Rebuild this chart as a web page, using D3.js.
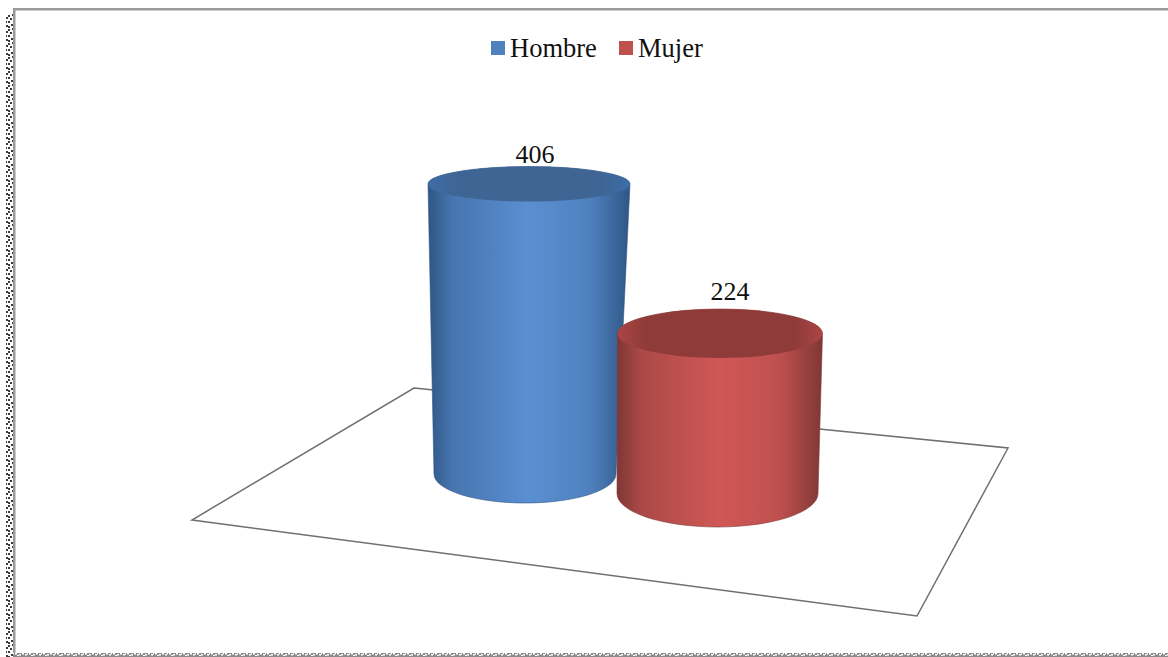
<!DOCTYPE html>
<html><head><meta charset="utf-8">
<script src="https://cdn.jsdelivr.net/npm/d3@7"></script>
<style>html,body{margin:0;padding:0;background:#fff}svg{display:block}text{font-family:"Liberation Serif",serif;fill:#111}</style>
</head><body><svg id="c" width="1168" height="657"></svg>
<script>
const categories = ["Hombre", "Mujer"];
const values = [406, 224];
const colorsEdge = ["#2f5685", "#7f3735"];
const colorsMid = ["#5a8fd2", "#d05856"];
const colorsTop = ["#3f6595", "#8f3b39"];
const colorsRim = ["#3c6da6", "#ab4644"];
const legendColors = ["#4f81bd", "#c0504d"];

const W = 1168, H = 657;
const svg = d3.select("#c");
const defs = svg.append("defs");

// layout scales
const baseX = d3.scalePoint().domain(categories).range([525, 717.5]);
const baseY = d3.scalePoint().domain(categories).range([474, 493.5]);
const topX = d3.scalePoint().domain(categories).range([529, 720]);
const rxBase = d3.scaleOrdinal(categories, [91, 100.5]);
const rxTop = d3.scaleOrdinal(categories, [101, 102.5]);
const ryBase = d3.scaleOrdinal(categories, [29, 33.5]);
const ryTop = d3.scaleOrdinal(categories, [17.5, 24.5]);
const hScale = d3.scaleLinear().domain([0, 406]).range([0, 290]);
const labelGap = d3.scaleOrdinal(categories, [4, 9]);
const labelShift = d3.scaleOrdinal(categories, [6, 10]);

// frame dot patterns
const p1 = defs.append("pattern").attr("id","dotsV").attr("patternUnits","userSpaceOnUse")
  .attr("width",8).attr("height",14);
[[0,1],[4,0],[2,4],[6,3],[0,7],[5,7],[3,10],[0,12],[6,11]].forEach(d=>
  p1.append("rect").attr("x",d[0]).attr("y",d[1]).attr("width",2).attr("height",2).attr("fill","#3a3a3a"));
const p2 = defs.append("pattern").attr("id","dotsH").attr("patternUnits","userSpaceOnUse")
  .attr("width",14).attr("height",4);
[[1,1],[5,2],[8,1],[11,2],[3,3],[13,1]].forEach(d=>
  p2.append("rect").attr("x",d[0]).attr("y",d[1]).attr("width",2).attr("height",1.5).attr("fill","#fff"));

svg.append("rect").attr("x",6).attr("y",14).attr("width",8).attr("height",643).attr("fill","url(#dotsV)");
svg.append("rect").attr("x",13).attr("y",8).attr("width",2.5).attr("height",646).attr("fill","#9a9a9a");
svg.append("rect").attr("x",13).attr("y",8).attr("width",W-13).attr("height",2.5).attr("fill","#9a9a9a");
svg.append("rect").attr("x",13).attr("y",653).attr("width",W-13).attr("height",4).attr("fill","#8a8a8a");
svg.append("rect").attr("x",13).attr("y",653).attr("width",W-13).attr("height",4).attr("fill","url(#dotsH)");

// floor
svg.append("polygon").attr("points",[[414,388],[1008,448],[917,616],[192,520]].join(" "))
  .attr("fill","#fff").attr("stroke","#6f6f6f").attr("stroke-width",1.5);

// gradients
categories.forEach((c,i)=>{
  const g = defs.append("linearGradient").attr("id","g"+i);
  [[0,colorsEdge[i]],[.12,d3.interpolateRgb(colorsEdge[i],colorsMid[i])(.55)],[.5,colorsMid[i]],[.8,d3.interpolateRgb(colorsEdge[i],colorsMid[i])(.75)],[1,colorsEdge[i]]]
    .forEach(s=>g.append("stop").attr("offset",s[0]).attr("stop-color",s[1]));
  const t = defs.append("linearGradient").attr("id","t"+i);
  [[0,colorsRim[i]],[.14,colorsTop[i]],[.86,colorsTop[i]],[1,colorsRim[i]]]
    .forEach(s=>t.append("stop").attr("offset",s[0]).attr("stop-color",s[1]));
});

// cylinders
const data = categories.map((c,i)=>({c,i,v:values[i]}));
const cyl = svg.selectAll("g.cyl").data(data).join("g").attr("class","cyl");
cyl.append("path").attr("fill",d=>`url(#g${d.i})`)
  .attr("stroke",d=>colorsEdge[d.i]).attr("stroke-width",.6).attr("d",d=>{
  const bx=baseX(d.c),by=baseY(d.c),tx=topX(d.c),ty=by-hScale(d.v),
        rb=rxBase(d.c),rt=rxTop(d.c),ryb=ryBase(d.c),ryt=ryTop(d.c);
  return `M${tx-rt},${ty} L${bx-rb},${by} A${rb},${ryb} 0 0 0 ${bx+rb},${by} L${tx+rt},${ty} A${rt},${ryt} 0 0 0 ${tx-rt},${ty}Z`;
});
cyl.append("ellipse")
  .attr("cx",d=>topX(d.c)).attr("cy",d=>baseY(d.c)-hScale(d.v))
  .attr("rx",d=>rxTop(d.c)).attr("ry",d=>ryTop(d.c)).attr("fill",d=>`url(#t${d.i})`);

// value labels
cyl.append("text").attr("text-anchor","middle").attr("font-size",26)
  .attr("x",d=>topX(d.c)+labelShift(d.c)).attr("y",d=>baseY(d.c)-hScale(d.v)-ryTop(d.c)-labelGap(d.c))
  .text(d=>d.v);

// legend
const legX = d3.scaleOrdinal(categories,[491,619]);
const leg = svg.selectAll("g.leg").data(data).join("g").attr("class","leg");
leg.append("rect").attr("x",d=>legX(d.c)).attr("y",41).attr("width",14).attr("height",14).attr("fill",d=>legendColors[d.i]);
leg.append("text").attr("x",d=>legX(d.c)+19).attr("y",56.5).attr("font-size",26.5).text(d=>d.c);
</script></body></html>
